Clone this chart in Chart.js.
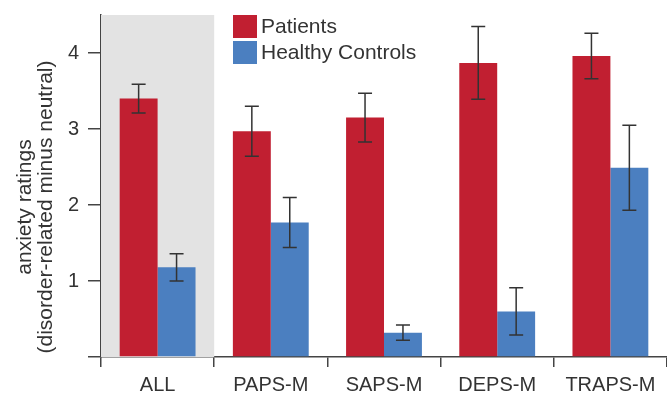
<!DOCTYPE html>
<html>
<head>
<meta charset="utf-8">
<script src="https://cdn.jsdelivr.net/npm/chart.js@4"></script>
<style>
  html, body { margin: 0; padding: 0; background: #fff; }
  #wrap { width: 667px; height: 393px; position: relative; }
</style>
</head>
<body>
<div id="wrap"><canvas id="anxietyChart"></canvas></div>
<script>
// categories and values
const categories = ['ALL', 'PAPS-M', 'SAPS-M', 'DEPS-M', 'TRAPS-M'];
const patients = [3.40, 2.97, 3.15, 3.87, 3.96];
const patientsErr = [0.19, 0.33, 0.32, 0.48, 0.30];
const controls = [1.18, 1.77, 0.32, 0.60, 2.49];
const controlsErr = [0.18, 0.33, 0.10, 0.31, 0.56];
const yTicks = [0, 1, 2, 3, 4];

const RED = '#c11f31';
const BLUE = '#4b7fc0';
const INK = '#333333';
const FONT = '"Liberation Sans", Arial, sans-serif';

// grey band behind the ALL category + error bars + legend + axis title
const extrasPlugin = {
    id: 'extras',
    beforeDatasetsDraw(chart) {
        const ctx = chart.ctx;
        const x = chart.scales.x;
        const area = chart.chartArea;
        const half = (x.getPixelForValue(1) - x.getPixelForValue(0)) / 2;
        const left = x.getPixelForValue(0) - half;
        ctx.save();
        ctx.fillStyle = '#e3e3e3';
        ctx.fillRect(left, area.top, half * 2, area.bottom - area.top);
        ctx.restore();
    },
    afterDatasetsDraw(chart) {
        const ctx = chart.ctx;
        const y = chart.scales.y;
        const errs = [patientsErr, controlsErr];
        ctx.save();
        ctx.strokeStyle = INK;
        ctx.lineWidth = 1.5;
        chart.data.datasets.forEach((ds, i) => {
            chart.getDatasetMeta(i).data.forEach((bar, j) => {
                const v = ds.data[j];
                const top = y.getPixelForValue(v + errs[i][j]);
                const bot = y.getPixelForValue(v - errs[i][j]);
                ctx.beginPath();
                ctx.moveTo(bar.x, top); ctx.lineTo(bar.x, bot);
                ctx.moveTo(bar.x - 7, top); ctx.lineTo(bar.x + 7, top);
                ctx.moveTo(bar.x - 7, bot); ctx.lineTo(bar.x + 7, bot);
                ctx.stroke();
            });
        });

        // legend
        ctx.font = '21px ' + FONT;
        ctx.textBaseline = 'middle';
        chart.data.datasets.forEach((ds, i) => {
            const ly = 15 + i * 26;
            ctx.fillStyle = ds.backgroundColor;
            ctx.fillRect(233, ly, 24, 23);
            ctx.fillStyle = INK;
            ctx.fillText(ds.label, 261, ly + 12);
        });

        // y axis title, two lines
        ctx.translate(35, 207);
        ctx.rotate(-Math.PI / 2);
        ctx.textAlign = 'center';
        ctx.font = '21px ' + FONT;
        ctx.fillText('anxiety ratings', 0, -10);
        ctx.fillText('(disorder-related minus neutral)', 0, 11);
        ctx.restore();
    }
};

new Chart(document.getElementById('anxietyChart'), {
    type: 'bar',
    data: {
        labels: categories,
        datasets: [
            { label: 'Patients', data: patients, backgroundColor: RED },
            { label: 'Healthy Controls', data: controls, backgroundColor: BLUE }
        ]
    },
    options: {
        responsive: true,
        maintainAspectRatio: false,
        animation: false,
        categoryPercentage: 0.67,
        barPercentage: 1.0,
        layout: { padding: { top: 15, right: 0, left: 0, bottom: 0 } },
        plugins: {
            legend: { display: false },
            tooltip: { enabled: false }
        },
        scales: {
            x: {
                afterFit(scale) { scale.height = 36; },
                grid: {
                    offset: true,
                    drawOnChartArea: false,
                    tickLength: 10,
                    color: '#444',
                    lineWidth: 1.5
                },
                border: { color: '#444', width: 1.5 },
                ticks: {
                    color: INK,
                    padding: 6,
                    font: { size: 20, family: FONT }
                }
            },
            y: {
                min: 0,
                max: 4.5,
                afterFit(scale) {
                    scale.width = 101;
                    scale.paddingTop = 0;
                    scale.paddingBottom = 0;
                },
                afterBuildTicks(scale) {
                    scale.ticks = yTicks.map(v => ({ value: v }));
                },
                grid: {
                    drawOnChartArea: false,
                    tickLength: 13,
                    color: '#444',
                    lineWidth: 1.5
                },
                border: { color: '#444', width: 1.5 },
                ticks: {
                    color: INK,
                    padding: 9,
                    font: { size: 20, family: FONT },
                    callback: v => (v === 0 ? '' : v)
                }
            }
        }
    },
    plugins: [extrasPlugin]
});
</script>
</body>
</html>
